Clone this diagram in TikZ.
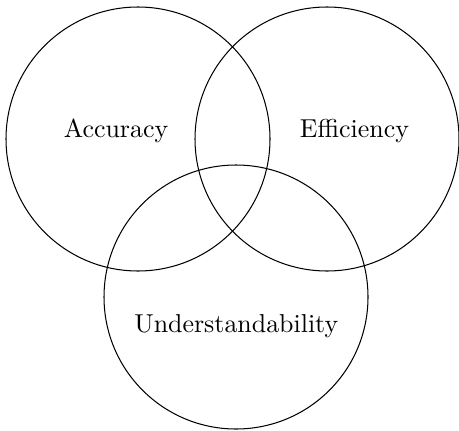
\documentclass[tikz,border=0pt]{standalone}
\begin{document}
\begin{tikzpicture}[x=0.386pt, y=-0.386pt,
  venn/.style={draw=black, line width=0.4pt},
  lbl/.style={anchor=base, inner sep=0pt, font=\normalsize}]
\useasboundingbox (0,0) rectangle (459,430);
\coordinate (cA) at (138,139);
\coordinate (cE) at (327,139);
\coordinate (cU) at (236,297);
\draw[venn] (cA) circle[radius=50.95pt];
\draw[venn] (cE) circle[radius=50.95pt];
\draw[venn] (cU) circle[radius=50.95pt];
\node[lbl] (acc) at (116,137) {Accuracy};
\node[lbl] (eff) at (354.5,137) {Efficiency};
\node[lbl] (und) at (236.3,332) {Understandability};
\end{tikzpicture}
\end{document}
